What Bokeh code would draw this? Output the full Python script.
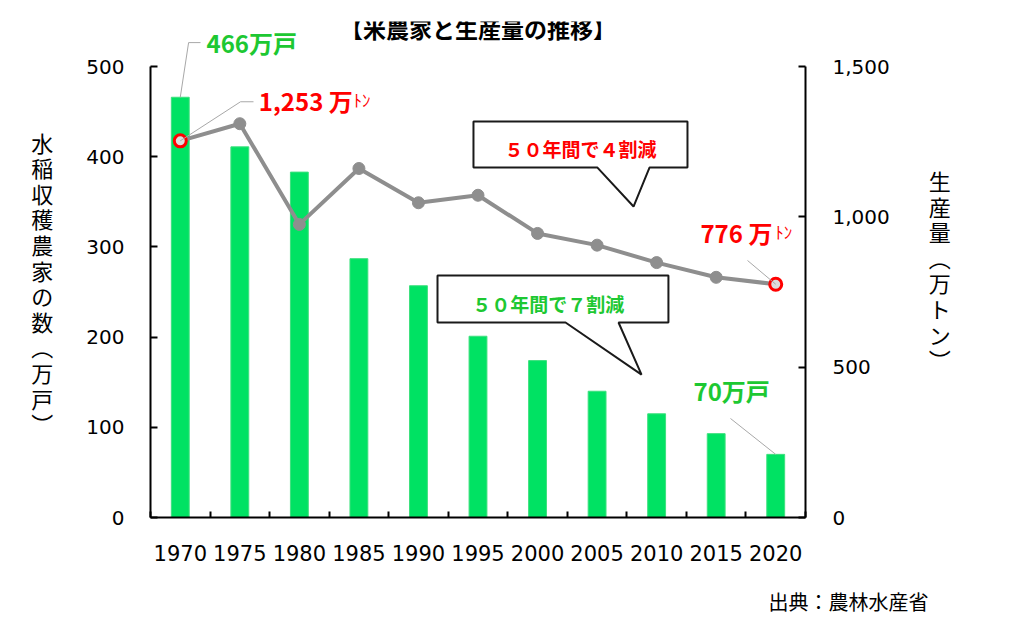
from bokeh.plotting import figure
from bokeh.models import (Range1d, LinearAxis, FixedTicker, NumeralTickFormatter, Label, Title)
from bokeh.embed import file_html
from bokeh.resources import INLINE

# ---- data ----
years = [1970, 1975, 1980, 1985, 1990, 1995, 2000, 2005, 2010, 2015, 2020]
farmers = [466, 411, 383, 287, 257, 201, 174, 140, 115, 93, 70]          # 万戸
production = [1253, 1310, 975, 1161, 1047, 1072, 945, 906, 848, 799, 776]  # 万トン
left_ticks = [0, 100, 200, 300, 400, 500]
right_ticks = [0, 500, 1000, 1500]

title_text = "【米農家と生産量の推移】"
left_title = "水稲収穫農家の数︵万戸︶"
right_title = "生産量︵万トン︶"
source_text = "出典：農林水産省"
callout_prod = "５０年間で４割減"
callout_farm = "５０年間で７割減"

CJK = "Noto Sans CJK JP"
LAT = "DejaVu Sans"
GREEN_TXT = "#1DC832"
RED = "#FF0000"

p = figure(width=1012, height=640, output_backend="svg", toolbar_location=None,
           x_range=Range1d(1967.5, 2022.5), y_range=Range1d(0, 550),
           min_border_left=150, min_border_right=207, min_border_top=21, min_border_bottom=123,
           outline_line_color=None)
p.extra_y_ranges = {"prod": Range1d(0, 1650)}
p.xgrid.visible = False
p.ygrid.visible = False

# axes
boundaries = [y - 2.5 for y in years] + [years[-1] + 2.5]
xa = p.xaxis[0]
xa.ticker = FixedTicker(ticks=years, minor_ticks=boundaries)
xa.major_tick_in = 0
xa.major_tick_out = 0
xa.minor_tick_in = 6
xa.minor_tick_out = 0
xa.minor_tick_line_width = 2
xa.axis_line_width = 2
xa.major_label_text_font = LAT
xa.major_label_text_font_size = "21px"
xa.major_label_text_color = "black"
xa.major_label_standoff = 27

ya = p.yaxis[0]
ya.bounds = (0, 500)
ya.ticker = FixedTicker(ticks=left_ticks)
ya.major_tick_in = 7
ya.major_tick_out = 0
ya.minor_tick_line_color = None
ya.axis_line_width = 2
ya.major_tick_line_width = 2
ya.major_label_text_font = LAT
ya.major_label_text_font_size = "20px"
ya.major_label_text_color = "black"
ya.major_label_standoff = 26
ya.axis_label = " \n" + "\n".join(left_title)
ya.axis_label_orientation = "horizontal"
ya.axis_label_text_font = CJK
ya.axis_label_text_font_size = "22px"
ya.axis_label_text_font_style = "normal"
ya.axis_label_text_color = "black"
ya.axis_label_text_line_height = 0.8
ya.axis_label_standoff = 30

ra = LinearAxis(y_range_name="prod", bounds=(0, 1500), ticker=FixedTicker(ticks=right_ticks),
                formatter=NumeralTickFormatter(format="0,0"))
ra.major_tick_in = 7
ra.major_tick_out = 0
ra.minor_tick_line_color = None
ra.axis_line_width = 2
ra.major_tick_line_width = 2
ra.major_label_text_font = LAT
ra.major_label_text_font_size = "20px"
ra.major_label_text_color = "black"
ra.major_label_standoff = 27
ra.axis_label = "\n".join(right_title)
ra.axis_label_orientation = "horizontal"
ra.axis_label_text_font = CJK
ra.axis_label_text_font_size = "22px"
ra.axis_label_text_font_style = "normal"
ra.axis_label_text_color = "black"
ra.axis_label_text_line_height = 0.8
ra.axis_label_standoff = 36
p.add_layout(ra, "right")

# source note
src = Title(text=source_text, align="right", offset=-123, standoff=43,
            text_font=CJK, text_font_size="20px", text_font_style="normal", text_color="black")
p.add_layout(src, "below")

# bars
p.vbar(x=years, top=farmers, width=1.5, bottom=0,
       fill_color="#00E263", line_color="#3EE07E", line_width=1)

# production line
p.line(x=years, y=production, y_range_name="prod", line_color="#8E8E8E", line_width=4)
p.scatter(x=years[1:-1], y=production[1:-1], y_range_name="prod", size=12,
          fill_color="#8E8E8E", line_color="#8E8E8E")
p.scatter(x=[years[0], years[-1]], y=[production[0], production[-1]], y_range_name="prod",
          size=12, fill_color="#DDDDDD", line_color=RED, line_width=3)

# leader lines
LEAD = "#A8A8A8"
p.line(x=[years[0], 1970.7, 1971.7], y=[farmers[0], 526.6, 526.6], line_color=LEAD, line_width=1)
p.line(x=[years[0], 1975.06, 1976.15], y=[production[0], 1383, 1383], y_range_name="prod",
       line_color=LEAD, line_width=1)
p.line(x=[2017.63, years[-1]], y=[855, production[-1]], y_range_name="prod",
       line_color=LEAD, line_width=1)
p.line(x=[2016.2, years[-1]], y=[109.8, farmers[-1]], line_color=LEAD, line_width=1)

# callouts
p.patch(x=[1994.62, 2012.59, 2012.59, 2009.40, 2008.06, 2005.03, 1994.62, 1994.62],
        y=[439.0, 439.0, 388.0, 388.0, 344.8, 388.0, 388.0, 439.0],
        fill_color="white", line_color="#1a1a1a", line_width=2)
p.patch(x=[1991.60, 2010.99, 2010.99, 2006.80, 2008.73, 2002.35, 1991.60, 1991.60],
        y=[268.3, 268.3, 216.2, 216.2, 158.5, 216.2, 216.2, 268.3],
        fill_color="white", line_color="#1a1a1a", line_width=2)


def lab(x, y, text, size, color="black", font=CJK, style="normal", align="left",
        baseline="middle", y_range_name="default"):
    p.add_layout(Label(x=x, y=y, text=text, text_font=font, text_font_size=size,
                       text_color=color, text_font_style=style, text_align=align,
                       text_baseline=baseline, y_range_name=y_range_name))


lab(2003.6, 409.1, callout_prod, "19px", RED, style="bold", align="center")
lab(2000.9, 237.3, callout_farm, "19px", GREEN_TXT, style="bold", align="center")

# value labels
lab(1972.2, 526.6, f"{farmers[0]}万戸", "24px", GREEN_TXT, style="bold")
lab(2013.1, 140.8, f"{farmers[-1]}万戸", "24px", GREEN_TXT, style="bold")
lab(1976.6, 1387, f"{production[0]:,} 万", "24px", RED, style="bold", y_range_name="prod")
lab(1984.55, 1392, "ﾄﾝ", "17px", RED, y_range_name="prod")
lab(2013.68, 948, f"{production[-1]:,} 万", "24px", RED, style="bold", y_range_name="prod")
lab(2019.95, 953, "ﾄﾝ", "17px", RED, y_range_name="prod")

# title
lab(1995.0, 543, title_text, "23px", "black", style="bold", align="center")

open("out.html", "w").write(file_html(p, INLINE))
